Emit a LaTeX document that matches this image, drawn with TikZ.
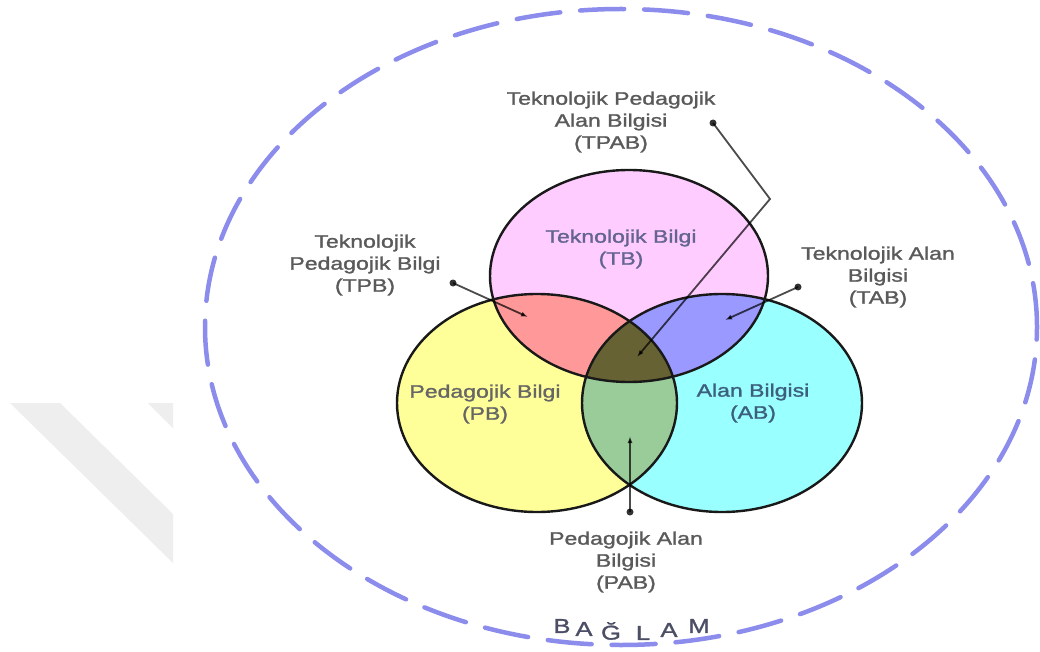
\documentclass[tikz,border=0pt]{standalone}
\usepackage{fontspec}
\newfontfamily\labfont[FakeStretch=1.28,FakeBold=1.4]{Liberation Sans}
\usetikzlibrary{arrows.meta}
\definecolor{tbcol}{RGB}{255,204,255}
\definecolor{pbcol}{RGB}{255,255,153}
\definecolor{abcol}{RGB}{153,255,255}
\definecolor{tpbcol}{RGB}{255,153,153}
\definecolor{tabcol}{RGB}{153,153,255}
\definecolor{pabcol}{RGB}{153,204,153}
\definecolor{tpabcol}{RGB}{102,98,51}
\definecolor{dashcol}{RGB}{140,140,236}
\definecolor{labgray}{RGB}{90,90,90}
\definecolor{tbtext}{RGB}{100,100,145}
\definecolor{abtext}{RGB}{60,95,125}
\definecolor{lettercol}{RGB}{75,78,100}
\definecolor{wmark}{RGB}{238,238,238}
\begin{document}
\begin{tikzpicture}[x=1pt,y=-1pt,
  lab/.style={font=\labfont\fontsize{18}{22}\selectfont, text=labgray, align=center, inner sep=0pt},
  dotnode/.style={circle, fill=black!80, minimum size=7pt, inner sep=0pt},
  conn/.style={draw=black, draw opacity=0.7, line width=1.8pt, -{Latex[length=7pt,width=5pt]}},
  outline/.style={draw=black!90, line width=2.4pt},
  letter/.style={font=\labfont\fontsize{20}{20}\selectfont, text=lettercol, inner sep=0pt}]
\useasboundingbox (0,0) rectangle (1040,652);
\fill[white] (0,0) rectangle (1040,652);
% watermark
\fill[wmark] (10,403) -- (60,403) -- (173,514) -- (173,563) -- cycle;
\fill[wmark] (148,403) -- (173,403) -- (173,428) -- cycle;
% context ellipse
\draw[dashcol, line width=4.5pt, line cap=round, dash pattern=on 44pt off 20pt]
  (621,327) ellipse [x radius=416pt, y radius=318pt];
% centres
\coordinate (cTB) at (629,276);
\coordinate (cPB) at (537,403);
\coordinate (cAB) at (722,403);
% base fills
\fill[pbcol] (cPB) ellipse [x radius=140pt, y radius=109pt];
\fill[abcol] (cAB) ellipse [x radius=140pt, y radius=109pt];
\fill[tbcol] (cTB) ellipse [x radius=139pt, y radius=106pt];
% pairwise
\begin{scope}
  \clip (cPB) ellipse [x radius=140pt, y radius=109pt];
  \fill[tpbcol] (cTB) ellipse [x radius=139pt, y radius=106pt];
  \fill[pabcol] (cAB) ellipse [x radius=140pt, y radius=109pt];
  \clip (cAB) ellipse [x radius=140pt, y radius=109pt];
  \fill[tpabcol] (cTB) ellipse [x radius=139pt, y radius=106pt];
\end{scope}
\begin{scope}
  \clip (cAB) ellipse [x radius=140pt, y radius=109pt];
  \clip (cTB) ellipse [x radius=139pt, y radius=106pt];
  \fill[tabcol] (cAB) ellipse [x radius=140pt, y radius=109pt];
  \clip (cPB) ellipse [x radius=140pt, y radius=109pt];
  \fill[tpabcol] (cAB) ellipse [x radius=140pt, y radius=109pt];
\end{scope}
% outlines
\draw[outline] (cPB) ellipse [x radius=140pt, y radius=109pt];
\draw[outline] (cAB) ellipse [x radius=140pt, y radius=109pt];
\draw[outline] (cTB) ellipse [x radius=139pt, y radius=106pt];
% inner labels
\node[lab, text=tbtext] (tb) at (621,249) {Teknolojik Bilgi\\(TB)};
\node[lab, text=black!60] (pb) at (485,404) {Pedagojik Bilgi\\(PB)};
\node[lab, text=abtext] (ab) at (753,403) {Alan Bilgisi\\(AB)};
% outer labels
\node[lab] (tpab) at (611,122) {Teknolojik Pedagojik\\Alan Bilgisi\\(TPAB)};
\node[lab] (tpb) at (365,265) {Teknolojik\\Pedagojik Bilgi\\(TPB)};
\node[lab] (tab) at (878,277) {Teknolojik Alan\\Bilgisi\\(TAB)};
\node[lab] (pab) at (626,562) {Pedagojik Alan\\Bilgisi\\(PAB)};
% connectors
\node[dotnode] (dTPAB) at (713,123) {};
\coordinate (kTPAB) at (770,199);
\coordinate (eTPAB) at (637,357);
\draw[conn] (dTPAB.center) -- (kTPAB) -- (eTPAB);
\node[dotnode] (dTPB) at (453,283) {};
\coordinate (eTPB) at (528,317);
\draw[conn] (dTPB.center) -- (eTPB);
\node[dotnode] (dTAB) at (798,287) {};
\coordinate (eTAB) at (725,320);
\draw[conn] (dTAB.center) -- (eTAB);
\node[dotnode] (dPAB) at (630,512) {};
\coordinate (ePAB) at (630,436);
\draw[conn] (dPAB.center) -- (ePAB);
% context label
\node[letter] (l1) at (562,626) {B};
\node[letter] (l2) at (584,629) {A};
\node[letter] (l3) at (611,631) {Ğ};
\node[letter] (l4) at (643,633) {L};
\node[letter] (l5) at (669,630) {A};
\node[letter] (l6) at (699,626) {M};
\end{tikzpicture}
\end{document}
